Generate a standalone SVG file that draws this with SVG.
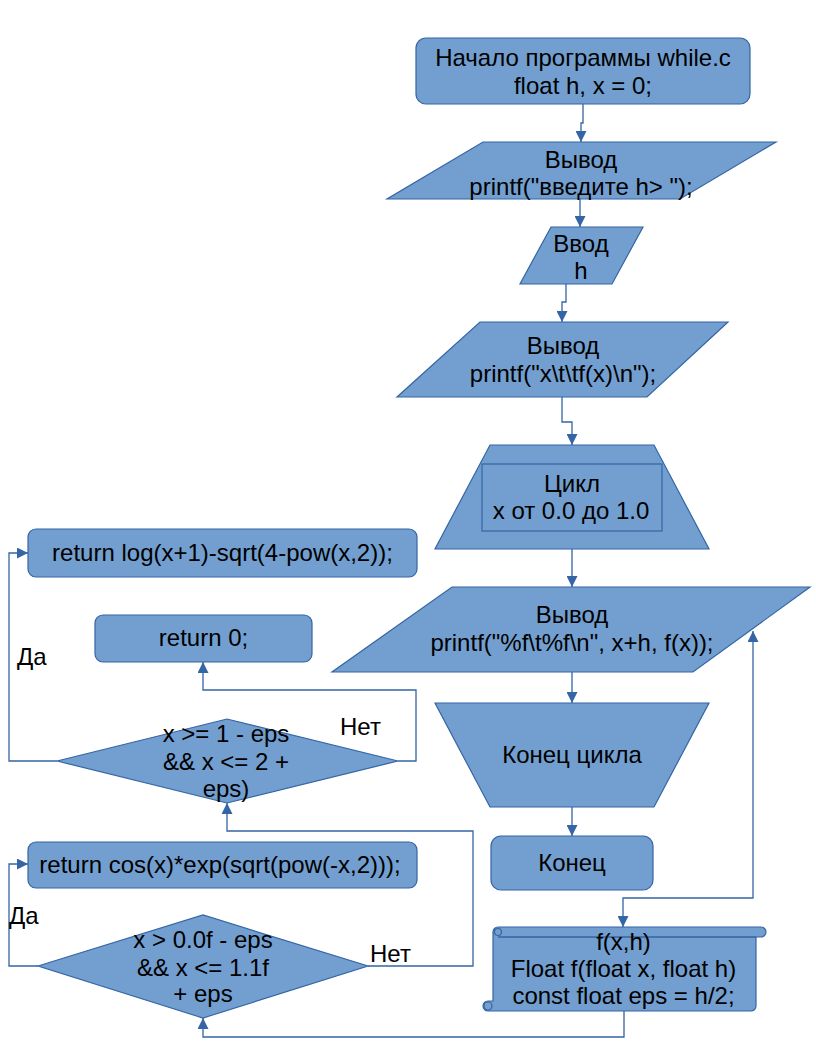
<svg xmlns="http://www.w3.org/2000/svg" width="816" height="1056" viewBox="0 0 816 1056">
<style>
.s{fill:#729fcf;stroke:#3465a4;stroke-width:1.2}
.t{font-family:"Liberation Sans",Arial,sans-serif;font-size:24px;fill:#000;text-anchor:middle}
.l{font-family:"Liberation Sans",Arial,sans-serif;font-size:24px;fill:#000}
.c{fill:none;stroke:#3465a4;stroke-width:1.3}
</style>
<defs>
<marker id="a" markerUnits="userSpaceOnUse" markerWidth="11" markerHeight="11" refX="11" refY="5.5" orient="auto-start-reverse" viewBox="0 0 11 11">
<path d="M0,0 L11,5.5 L0,11 Z" fill="#3465a4"/>
</marker>
</defs>
<rect width="816" height="1056" fill="#fff"/>
<g id="connectors">
<path class="c" d="M583,104 V123 H581 V142" marker-end="url(#a)"/>
<path class="c" d="M580,199 V227" marker-end="url(#a)"/>
<path class="c" d="M566,284 V302 H562 V322" marker-end="url(#a)"/>
<path class="c" d="M562,397 V422 H572 V445" marker-end="url(#a)"/>
<path class="c" d="M572,531 V587" marker-end="url(#a)"/>
<path class="c" d="M572,672 V703" marker-end="url(#a)"/>
<path class="c" d="M572,807 V836" marker-end="url(#a)"/>
<path class="c" d="M753,631 V898 H623 V927" marker-start="url(#a)" marker-end="url(#a)"/>
<path class="c" d="M624,1011 V1037 H203 V1018" marker-end="url(#a)"/>
<path class="c" d="M38,966 H9 V864 H28" marker-end="url(#a)"/>
<path class="c" d="M368,966 H473 V831 H227 V803" marker-end="url(#a)"/>
<path class="c" d="M57,761 H9 V553 H28" marker-end="url(#a)"/>
<path class="c" d="M398,761 H416 V690 H203 V662" marker-end="url(#a)"/>
</g>
<g id="start">
<rect class="s" x="416" y="38" width="334" height="66" rx="10"/>
<text class="t" x="583" y="66">Начало программы while.c</text>
<text class="t" x="583" y="93.5">float h, x = 0;</text>
</g>
<g id="out1">
<polygon class="s" points="483,142 776,142 680,199 387,199"/>
<text class="t" x="581" y="168">Вывод</text>
<text class="t" x="581" y="195">printf("введите h&gt; ");</text>
</g>
<g id="in1">
<polygon class="s" points="551,227 643,227 612,284 520,284"/>
<text class="t" x="581" y="252">Ввод</text>
<text class="t" x="581" y="279">h</text>
</g>
<g id="out2">
<polygon class="s" points="480,322 728,322 647,397 397,397"/>
<text class="t" x="563" y="354">Вывод</text>
<text class="t" x="563" y="382">printf("x\t\tf(x)\n");</text>
</g>
<g id="loop">
<polygon class="s" points="490,445 654,445 709,549 435,549"/>
<rect class="s" x="482" y="464" width="180" height="67"/>
<text class="t" x="572" y="492">Цикл</text>
<text class="t" x="571" y="519">x от 0.0 до 1.0</text>
</g>
<g id="out3">
<polygon class="s" points="452,587 810,587 693,672 332,672"/>
<text class="t" x="572" y="623">Вывод</text>
<text class="t" x="572" y="651">printf("%f\t%f\n", x+h, f(x));</text>
</g>
<g id="loopend">
<polygon class="s" points="435,703 709,703 654,807 490,807"/>
<text class="t" x="572" y="763">Конец цикла</text>
</g>
<g id="end">
<rect class="s" x="491" y="836" width="162" height="54" rx="10"/>
<text class="t" x="572" y="871">Конец</text>
</g>
<g id="func">
<path class="s" d="M498,927 H761 A5,5 0 0 1 761,937 H756 V1006 A5,5 0 0 1 751,1011 H488 A5,5 0 0 1 488,1001 H493 V932 A5,5 0 0 1 498,927 Z"/>
<line class="c" x1="498" y1="937" x2="756" y2="937"/>
<circle class="s" cx="498" cy="932" r="3.5"/>
<circle class="s" cx="488" cy="1006" r="4"/>
<text class="t" x="623.5" y="950">f(x,h)</text>
<text class="t" x="623.5" y="977">Float f(float x, float h)</text>
<text class="t" x="623.5" y="1004">const float eps = h/2;</text>
</g>
<g id="retlog">
<rect class="s" x="28" y="529" width="389" height="48" rx="8"/>
<text class="t" x="222.5" y="561">return log(x+1)-sqrt(4-pow(x,2));</text>
</g>
<g id="ret0">
<rect class="s" x="95" y="615" width="217" height="47" rx="8"/>
<text class="t" x="203.5" y="646">return 0;</text>
</g>
<g id="cond1">
<polygon class="s" points="57,761 227,719 398,761 227,803"/>
<text class="t" x="226" y="742">x &gt;= 1 - eps</text>
<text class="t" x="226" y="769.5">&amp;&amp; x &lt;= 2 +</text>
<text class="t" x="226" y="797">eps)</text>
</g>
<g id="retcos">
<rect class="s" x="28" y="842" width="389" height="46" rx="8"/>
<text class="t" x="220" y="873">return cos(x)*exp(sqrt(pow(-x,2)));</text>
</g>
<g id="cond2">
<polygon class="s" points="38,966 203,915 368,966 203,1018"/>
<text class="t" x="203" y="948">x &gt; 0.0f - eps</text>
<text class="t" x="203" y="975.5">&amp;&amp; x &lt;= 1.1f</text>
<text class="t" x="203" y="1002">+ eps</text>
</g>
<g id="labels">
<text class="l" x="17" y="665">Да</text>
<text class="l" x="340" y="735">Нет</text>
<text class="l" x="9" y="924">Да</text>
<text class="l" x="370" y="962">Нет</text>
</g>
</svg>
